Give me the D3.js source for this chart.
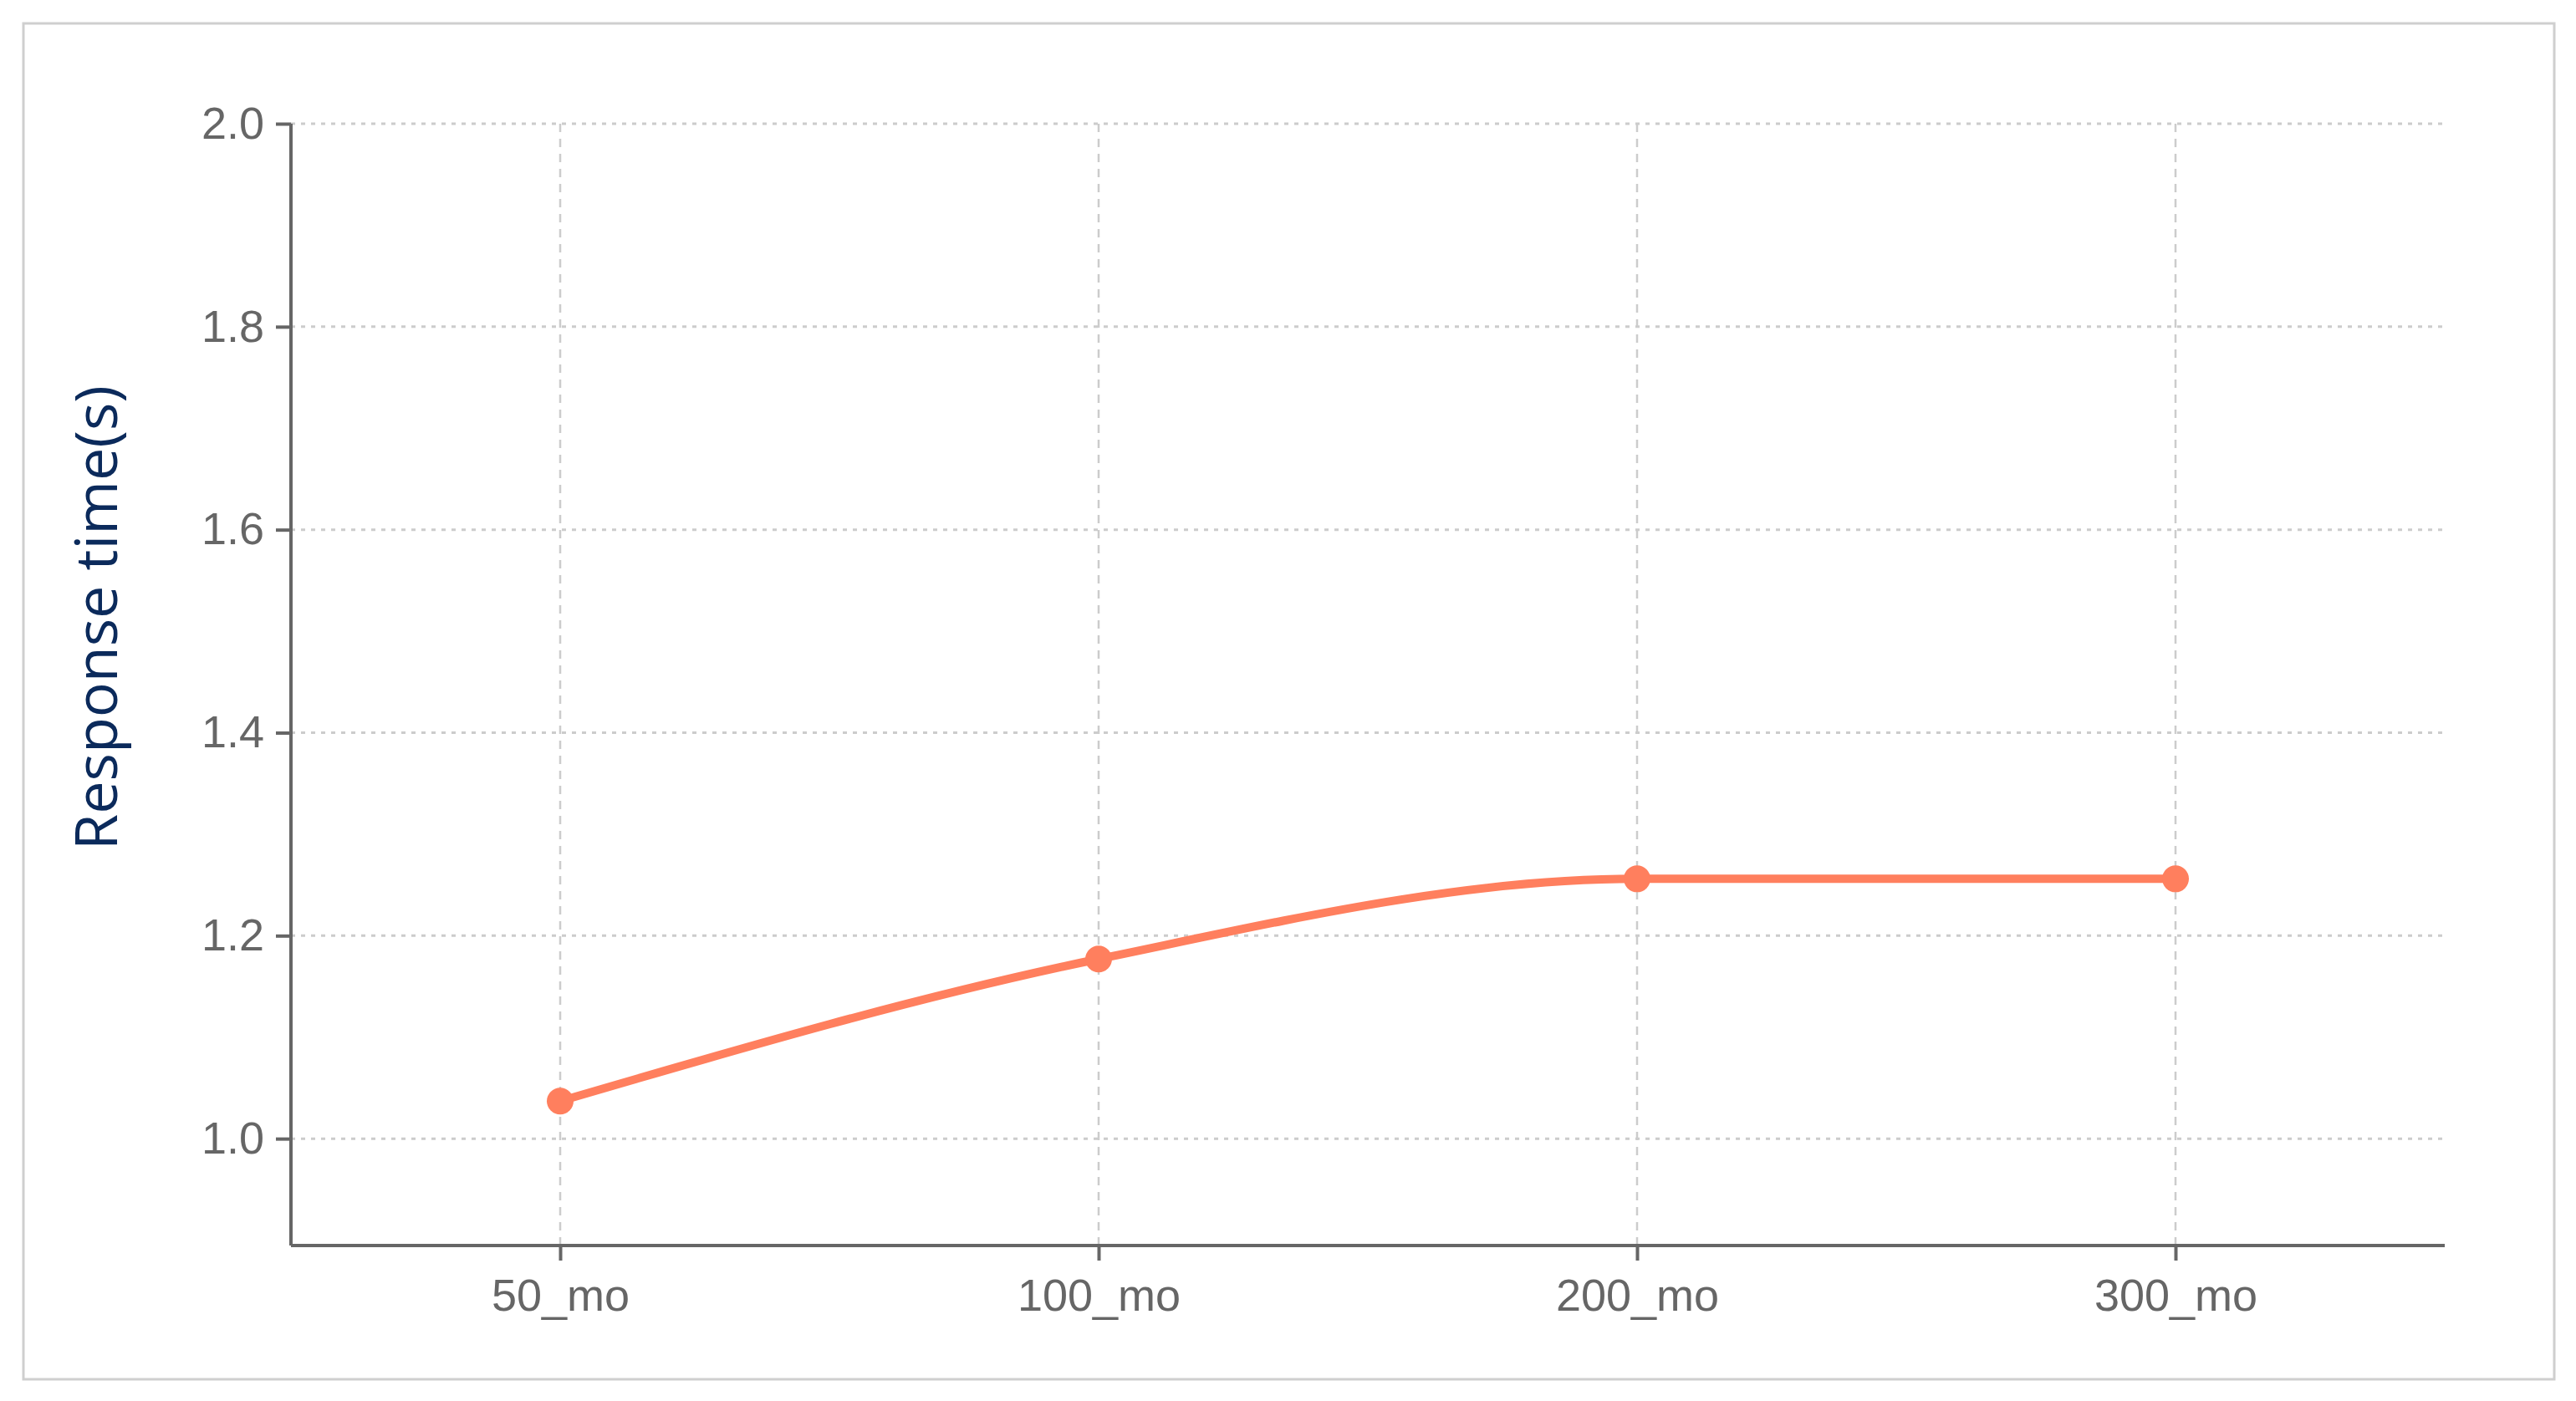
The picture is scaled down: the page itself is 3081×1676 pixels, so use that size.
<!DOCTYPE html>
<html>
<head>
<meta charset="utf-8">
<script src="https://cdn.jsdelivr.net/npm/d3@7"></script>
<style>
  body { margin: 0; background: #fff; }
  .tick text { font-family: "Liberation Sans", Arial, sans-serif; fill: #666; }
</style>
</head>
<body>
<script>
// data
var categories = ["50_mo", "100_mo", "200_mo", "300_mo"];
var responseTimes = [1.037, 1.177, 1.256, 1.256];
var yTicks = [1.0, 1.2, 1.4, 1.6, 1.8, 2.0];

var W = 3081, H = 1676;
var plotLeft = 348, plotRight = 2924, plotTop = 148, plotBottom = 1490;

var svg = d3.select("body").append("svg")
  .attr("width", W).attr("height", H);

// frame
svg.append("rect")
  .attr("x", 28).attr("y", 28).attr("width", 3027).attr("height", 1622)
  .attr("fill", "#fff").attr("stroke", "#cfcfcf").attr("stroke-width", 3);

var x = d3.scalePoint().domain(categories).range([plotLeft, plotRight]).padding(0.5);
var y = d3.scaleLinear().domain([0.8947, 2.0]).range([plotBottom, plotTop]);

var data = categories.map(function(c, i) { return {c: c, v: responseTimes[i]}; });

//grid lines
svg.append("g").selectAll("line").data(yTicks).enter().append("line")
  .attr("x1", plotLeft).attr("x2", plotRight)
  .attr("y1", function(d) { return y(d); }).attr("y2", function(d) { return y(d); })
  .attr("stroke", "#cccccc").attr("stroke-width", 3).attr("stroke-dasharray", "5,7");

svg.append("g").selectAll("line").data(categories).enter().append("line")
  .attr("x1", function(d) { return x(d); }).attr("x2", function(d) { return x(d); })
  .attr("y1", plotTop).attr("y2", plotBottom)
  .attr("stroke", "#cccccc").attr("stroke-width", 2.5).attr("stroke-dasharray", "10,8");

//axes
var yAxis = d3.axisLeft(y).tickValues(yTicks).tickFormat(d3.format(".1f")).tickSize(18).tickPadding(14);
var xAxis = d3.axisBottom(x).tickSize(18).tickPadding(22);

var gy = svg.append("g").attr("transform", "translate(" + plotLeft + ",0)").call(yAxis);
gy.select(".domain").attr("d", "M0," + plotTop + "V" + plotBottom);
var gx = svg.append("g").attr("transform", "translate(0," + plotBottom + ")").call(xAxis);
gx.select(".domain").attr("d", "M" + plotLeft + ",0H" + plotRight);

svg.selectAll(".domain").attr("stroke", "#666").attr("stroke-width", 4);
svg.selectAll(".tick line").attr("stroke", "#666").attr("stroke-width", 4);
svg.selectAll(".tick text").style("font-size", "54px");

//label
svg.append("text")
  .attr("transform", "translate(140," + ((plotTop + plotBottom) / 2 - 80) + ") rotate(-90)")
  .attr("text-anchor", "middle")
  .style("font-family", "'Open Sans', 'Noto Sans', sans-serif")
  .style("font-size", "70px")
  .attr("fill", "#0b2a5b")
  .text("Response time(s)");

//line
var line = d3.line()
  .x(function(d) { return x(d.c); })
  .y(function(d) { return y(d.v); })
  .curve(d3.curveMonotoneX);

svg.append("path").datum(data)
  .attr("d", line)
  .attr("fill", "none").attr("stroke", "#ff7f5e").attr("stroke-width", 10);

svg.selectAll(".pt").data(data).enter().append("circle")
  .attr("class", "pt")
  .attr("cx", function(d) { return x(d.c); })
  .attr("cy", function(d) { return y(d.v); })
  .attr("r", 16).attr("fill", "#ff7f5e");
</script>
</body>
</html>
